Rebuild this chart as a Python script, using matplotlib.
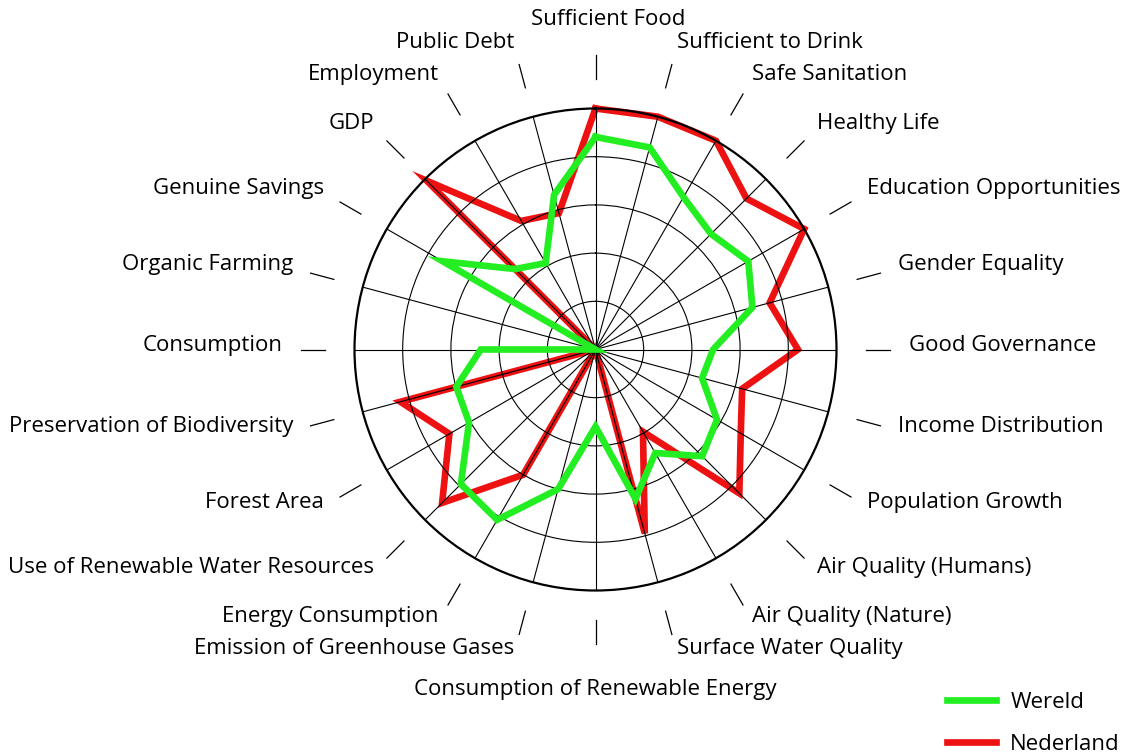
import numpy as np
import matplotlib
matplotlib.use("Agg")
import matplotlib.pyplot as plt
from matplotlib.lines import Line2D
from matplotlib.transforms import offset_copy

plt.rcParams['font.family'] = ['Open Sans', 'DejaVu Sans']

categories = [
    "Sufficient Food", "Sufficient to Drink", "Safe Sanitation", "Healthy Life",
    "Education Opportunities", "Gender Equality", "Good Governance",
    "Income Distribution", "Population Growth", "Air Quality (Humans)",
    "Air Quality (Nature)", "Surface Water Quality",
    "Consumption of Renewable Energy", "Emission of Greenhouse Gases",
    "Energy Consumption", "Use of Renewable Water Resources", "Forest Area",
    "Preservation of Biodiversity", "Consumption", "Organic Farming",
    "Genuine Savings", "GDP", "Employment", "Public Debt",
]

nederland = [5.0, 5.0, 5.0, 4.43, 5.0, 3.74, 4.2, 3.15, 3.48, 4.22, 1.97, 3.95,
             0.0, 0.0, 3.0, 4.5, 3.5, 4.19, 0.0, 0.0, 0.0, 4.95, 3.08, 2.93]
wereld = [4.41, 4.34, 3.65, 3.39, 3.66, 3.37, 2.44, 2.29, 2.91, 3.13, 2.48, 3.21,
          1.6, 3.0, 4.08, 3.95, 3.03, 2.99, 2.38, 0.0, 3.66, 2.36, 2.07, 3.32]

series_names = ["Wereld", "Nederland"]
GREEN = "#22ee22"
RED = "#ee1111"
FS = 16

W, H = 1136, 753
fig = plt.figure(figsize=(W / 100, H / 100), dpi=100)
cx, cy, R = 595.5, 349.5, 241.0
ax = fig.add_axes([(cx - R) / W, (H - cy - R) / H, 2 * R / W, 2 * R / H],
                  projection='polar')
ax.set_theta_zero_location('N')
ax.set_theta_direction(-1)
ax.set_ylim(0, 5)

n = len(categories)
theta = np.deg2rad(np.arange(n) * 360.0 / n)

ax.set_thetagrids(np.arange(n) * 360.0 / n, labels=[''] * n)
ax.set_rgrids([1, 2, 3, 4], labels=[''] * 4)
ax.grid(True, color='black', linewidth=0.8)
ax.set_axisbelow(False)
ax.tick_params(length=0)
ax.spines['polar'].set_linewidth(1.6)
ax.spines['polar'].set_color('black')

th_closed = np.append(theta, theta[0])
ax.plot(th_closed, np.append(nederland, nederland[0]), color=RED, lw=4.8,
        solid_joinstyle='miter', zorder=2, clip_on=False)
ax.plot(th_closed, np.append(wereld, wereld[0]), color=GREEN, lw=4.8,
        solid_joinstyle='miter', zorder=3, clip_on=False)

# outer tick dashes
for t in theta:
    ax.plot([t, t], [5.62, 6.12], color='black', lw=0.9, clip_on=False)

# labels
trans_up = offset_copy(ax.transData, fig=fig, x=0, y=4, units='dots')
for i, (t, lab) in enumerate(zip(theta, categories)):
    ang = 90 - np.rad2deg(t)  # math angle
    c = np.cos(np.deg2rad(ang))
    if abs(c) < 0.05:
        if np.sin(np.deg2rad(ang)) > 0:
            tr = offset_copy(ax.transData, fig=fig, x=13, y=4, units='dots')
            ax.text(t, 6.77, lab, ha='center', va='center', fontsize=FS,
                    transform=tr, clip_on=False)
        else:
            ax.text(t, 7.13, lab, ha='center', va='center', fontsize=FS,
                    transform=trans_up, clip_on=False)
    else:
        ax.text(t, 6.5, lab, ha='left' if c > 0 else 'right', va='center',
                fontsize=FS, transform=trans_up, clip_on=False)

handles = [Line2D([], [], color=GREEN, lw=4.8), Line2D([], [], color=RED, lw=4.8)]
fig.legend(handles, series_names, loc='center left',
           bbox_to_anchor=(947 / W, (H - 723.5) / H), frameon=False,
           fontsize=FS, handlelength=2.2, handletextpad=0.65, labelspacing=0.95,
           borderpad=0, borderaxespad=0)

fig.savefig('out.png', dpi=100)
